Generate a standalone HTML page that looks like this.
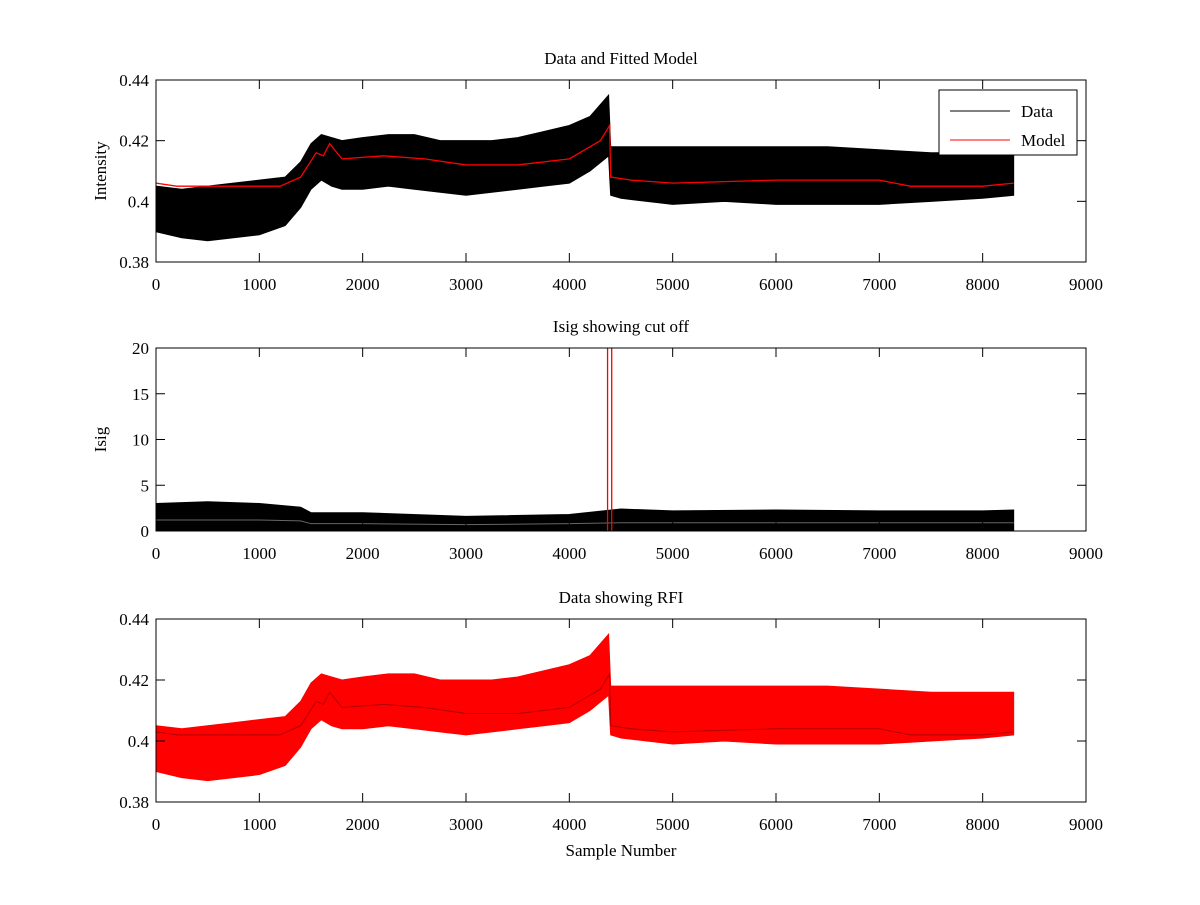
<!DOCTYPE html>
<html><head><meta charset="utf-8"><style>
html,body{margin:0;padding:0;background:#fff}
svg text{font-family:"Liberation Serif",serif;font-size:17px;fill:#000}
</style></head><body>
<svg id="c" width="1200" height="900" xmlns="http://www.w3.org/2000/svg"></svg>
<script>
// ---- data ----
const envX   = [0,250,500,750,1000,1250,1400,1500,1600,1700,1800,2000,2250,2500,2750,3000,3250,3500,3750,4000,4200,4380,4400,4500,5000,5500,6000,6500,7000,7500,8000,8300];
const envLo  = [0.390,0.388,0.387,0.388,0.389,0.392,0.398,0.404,0.407,0.405,0.404,0.404,0.405,0.404,0.403,0.402,0.403,0.404,0.405,0.406,0.410,0.415,0.402,0.401,0.399,0.400,0.399,0.399,0.399,0.400,0.401,0.402];
const envHi  = [0.405,0.404,0.405,0.406,0.407,0.408,0.413,0.419,0.422,0.421,0.420,0.421,0.422,0.422,0.420,0.420,0.420,0.421,0.423,0.425,0.428,0.435,0.418,0.418,0.418,0.418,0.418,0.418,0.417,0.416,0.416,0.416];
const modelX = [0,200,1200,1400,1550,1620,1680,1800,2200,2600,3000,3500,4000,4300,4390,4400,4600,5000,6000,7000,7300,8000,8300];
const modelY = [0.406,0.405,0.405,0.408,0.416,0.415,0.419,0.414,0.415,0.414,0.412,0.412,0.414,0.420,0.425,0.408,0.407,0.406,0.407,0.407,0.405,0.405,0.406];
const isigX  = [0,500,1000,1400,1500,2000,3000,4000,4500,5000,6000,7000,8000,8300];
const isigHi = [3.0,3.2,3.0,2.6,2.0,2.0,1.6,1.8,2.4,2.2,2.3,2.2,2.2,2.3];
const isigBase = [1.2,1.2,1.2,1.1,0.8,0.8,0.7,0.8,0.9,0.9,0.9,0.9,0.9,0.9];
const spikeX = [4370,4410];
const spikeY = 20;
const xTicks = [0,1000,2000,3000,4000,5000,6000,7000,8000,9000];
const yTicksI = [0.38,0.4,0.42,0.44];
const yTicksS = [0,5,10,15,20];

const svg=document.getElementById('c');
const NS='http://www.w3.org/2000/svg';
function mk(t,a,p){const e=document.createElementNS(NS,t);for(const k in a)e.setAttribute(k,a[k]);(p||svg).appendChild(e);return e;}
const L=156,R=1086;
const sx=v=>L+(v/9000)*(R-L);
function axes(top,bot,ymin,ymax,yt,fmt,title,ylabel,name){
  const g=mk('g',{});
  
  
  const sy=v=>bot-(v-ymin)/(ymax-ymin)*(bot-top);
  mk('rect',{x:L,y:top,width:R-L,height:bot-top,fill:'#fff',stroke:'none'},g);
  return {g,sy,finish(){
    mk('rect',{x:L,y:top,width:R-L,height:bot-top,fill:'none',stroke:'#000','stroke-width':1},g);
    xTicks.forEach(t=>{const x=sx(t);
      mk('line',{x1:x,x2:x,y1:bot,y2:bot-9,stroke:'#000'},g);
      mk('line',{x1:x,x2:x,y1:top,y2:top+9,stroke:'#000'},g);
      const tx=mk('text',{x:x,y:bot+28,'text-anchor':'middle'},g);tx.textContent=t;
      
      });
    yt.forEach(t=>{const y=sy(t);
      mk('line',{x1:L,x2:L+9,y1:y,y2:y,stroke:'#000'},g);
      mk('line',{x1:R,x2:R-9,y1:y,y2:y,stroke:'#000'},g);
      const tx=mk('text',{x:L-7,y:y+6,'text-anchor':'end'},g);tx.textContent=fmt(t);
      
      });
    const ti=mk('text',{x:(L+R)/2,y:top-16,'text-anchor':'middle'},g);ti.textContent=title;
    
    
    if(ylabel){const yl=mk('text',{x:0,y:0,'text-anchor':'middle',transform:`translate(${L-50},${(top+bot)/2}) rotate(-90)`},g);yl.textContent=ylabel;
      
      }
  }};
}
function band(g,sy,xs,lo,hi,fill,stroke,name){
  let d='M'+xs.map((x,i)=>sx(x)+','+sy(hi[i])).join('L');
  for(let i=xs.length-1;i>=0;i--)d+='L'+sx(xs[i])+','+sy(lo[i]);
  const p=mk('path',{d:d+'Z',fill:fill,stroke:stroke,'stroke-width':1},g);
  
  
}
const fmtI=t=>t.toFixed(2).replace(/0$/,'');
// Panel 1
const a1=axes(80,262,0.38,0.44,yTicksI,fmtI,'Data and Fitted Model','Intensity','data-model-axes');
band(a1.g,a1.sy,envX,envLo,envHi,'#000','#000','data-series');
const m=mk('polyline',{points:modelX.map((x,i)=>sx(x)+','+a1.sy(modelY[i])).join(' '),fill:'none',stroke:'#f00','stroke-width':1.3},a1.g);


a1.finish();
// legend
const lg=mk('g',{});


mk('rect',{x:939,y:90,width:138,height:65,fill:'#fff',stroke:'#000'},lg);
mk('line',{x1:950,x2:1010,y1:111,y2:111,stroke:'#000'},lg);
mk('line',{x1:950,x2:1010,y1:140,y2:140,stroke:'#f00'},lg);
let t1=mk('text',{x:1021,y:117},lg);t1.textContent='Data';


let t2=mk('text',{x:1021,y:146},lg);t2.textContent='Model';


// Panel 2
const a2=axes(348,531,0,20,yTicksS,t=>String(t),'Isig showing cut off','Isig','isig-axes');
band(a2.g,a2.sy,isigX,isigX.map(()=>0),isigHi,'#000','#000','isig-series');
let dd='M'+isigX.map((x,i)=>sx(x)+','+a2.sy(isigBase[i])).join('L');
mk('path',{d:dd,fill:'none',stroke:'#fff','stroke-width':1,opacity:0.4},a2.g);
spikeX.forEach(x=>{const l=mk('line',{x1:sx(x),x2:sx(x),y1:a2.sy(0),y2:a2.sy(spikeY),stroke:'#f00','stroke-width':1.3},a2.g);
  
  });
a2.finish();
// Panel 3
const a3=axes(619,802,0.38,0.44,yTicksI,fmtI,'Data showing RFI','','rfi-axes');
band(a3.g,a3.sy,envX,envLo,envHi,'#f00','#f00','rfi-series');
mk('polyline',{points:modelX.map((x,i)=>sx(x)+','+a3.sy(modelY[i]-0.003)).join(' '),fill:'none',stroke:'#600','stroke-width':1,opacity:0.5},a3.g);
a3.finish();
const xl=mk('text',{x:(L+R)/2,y:856,'text-anchor':'middle'});xl.textContent='Sample Number';


</script>
</body></html>
